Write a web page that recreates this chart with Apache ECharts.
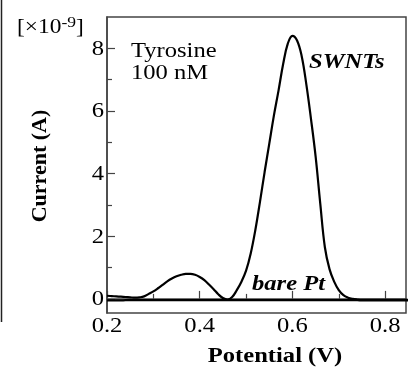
<!DOCTYPE html>
<html>
<head>
<meta charset="utf-8">
<script src="https://cdn.jsdelivr.net/npm/echarts@6/dist/echarts.min.js"></script>
<style>
  html, body { margin: 0; padding: 0; background: #fff; }
  #chart { width: 410px; height: 373px; }
</style>
</head>
<body>
<div id="chart"></div>
<script>
// potential (V)
var potential = [0.20, 0.21, 0.22, 0.23, 0.24, 0.25, 0.26, 0.27, 0.28, 0.29,
  0.30, 0.31, 0.32, 0.33, 0.34, 0.35, 0.36, 0.37, 0.38, 0.39,
  0.40, 0.41, 0.42, 0.43, 0.44, 0.45, 0.46, 0.47, 0.48, 0.49,
  0.50, 0.51, 0.52, 0.53, 0.54, 0.55, 0.56, 0.57, 0.58, 0.59,
  0.60, 0.61, 0.62, 0.63, 0.64, 0.65, 0.66, 0.67, 0.68, 0.69,
  0.70, 0.71, 0.72, 0.73, 0.74, 0.75, 0.76, 0.77, 0.78, 0.79,
  0.80, 0.81, 0.82, 0.83, 0.84, 0.85];
// current (x1e-9 A), SWNTs electrode
var swnts = [0.10, 0.09, 0.08, 0.07, 0.06, 0.05, 0.04, 0.05, 0.08, 0.16,
  0.24, 0.34, 0.45, 0.56, 0.65, 0.72, 0.77, 0.80, 0.80, 0.77,
  0.70, 0.60, 0.46, 0.31, 0.15, 0.03, -0.02, 0.06, 0.28, 0.55,
  0.90, 1.45, 2.20, 3.10, 4.05, 4.95, 5.85, 6.65, 7.50, 8.15,
  8.40, 8.25, 7.75, 6.85, 5.75, 4.55, 3.05, 1.65, 0.95, 0.55,
  0.28, 0.12, 0.04, 0.00, -0.02, -0.03, -0.03, -0.03, -0.03, -0.03,
  -0.03, -0.03, -0.03, -0.03, -0.03, -0.03];
// bare Pt electrode
var barePt = [-0.05, -0.05, -0.05, -0.05, -0.04, -0.04, -0.04, -0.04, -0.04, -0.04,
  -0.04, -0.04, -0.04, -0.04, -0.04, -0.04, -0.04, -0.04, -0.04, -0.04,
  -0.04, -0.04, -0.04, -0.04, -0.04, -0.04, -0.04, -0.04, -0.04, -0.04,
  -0.04, -0.04, -0.04, -0.04, -0.04, -0.04, -0.04, -0.04, -0.04, -0.04,
  -0.04, -0.04, -0.04, -0.04, -0.04, -0.04, -0.04, -0.04, -0.04, -0.04,
  -0.04, -0.04, -0.04, -0.04, -0.04, -0.05, -0.05, -0.05, -0.05, -0.05,
  -0.05, -0.05, -0.05, -0.05, -0.05, -0.05];

var xMajor = [0.2, 0.4, 0.6, 0.8];
var xMinor = [0.3, 0.5, 0.7];
var yMajor = [0, 2, 4, 6, 8];
var yMinor = [1, 3, 5, 7];

function pairs(xs, ys) {
  var out = [];
  for (var i = 0; i < xs.length; i++) out.push([xs[i], ys[i]]);
  return out;
}

var serif = "Liberation Serif";
var axisColor = "#444";
var stretch = 1.17; // the reference type is a bit wider than normal

var myChart = echarts.init(document.getElementById("chart"));
myChart.setOption({
  animation: false,
  grid: {
    left: 107, top: 17, right: 4, bottom: 60,
    show: true,
    borderColor: axisColor,
    borderWidth: 1.5
  },
  xAxis: [
    {
      type: "value", min: 0.2, max: 0.845,
      axisLine: { show: true, lineStyle: { color: axisColor, width: 1.5 } },
      axisTick: { show: true, inside: true, length: 8, customValues: xMajor, lineStyle: { color: axisColor, width: 1.2 } },
      axisLabel: { show: false },
      splitLine: { show: false }
    },
    {
      type: "value", min: 0.2, max: 0.845, position: "bottom",
      axisLine: { show: false },
      axisTick: { show: true, inside: true, length: 5, customValues: xMinor, lineStyle: { color: axisColor, width: 1.2 } },
      axisLabel: { show: false },
      splitLine: { show: false }
    }
  ],
  yAxis: [
    {
      type: "value", min: -0.45, max: 9,
      axisLine: { show: true, lineStyle: { color: axisColor, width: 1.5 } },
      axisTick: { show: true, inside: true, length: 8, customValues: yMajor, lineStyle: { color: axisColor, width: 1.2 } },
      axisLabel: { show: false },
      splitLine: { show: false }
    },
    {
      type: "value", min: -0.45, max: 9, position: "left",
      axisLine: { show: false },
      axisTick: { show: true, inside: true, length: 5, customValues: yMinor, lineStyle: { color: axisColor, width: 1.2 } },
      axisLabel: { show: false },
      splitLine: { show: false }
    }
  ],
  series: [
    {
      name: "SWNTs", type: "line", data: pairs(potential, swnts),
      smooth: 0.4, showSymbol: false,
      lineStyle: { color: "#000", width: 2.2 }
    },
    {
      name: "bare Pt", type: "line", data: pairs(potential, barePt),
      smooth: 0.4, showSymbol: false,
      lineStyle: { color: "#000", width: 2.2 }
    }
  ]
});

// tick labels and texts, placed with the axes' own scales
var gfx = [];
function txt(x, y, s, font, align, vAlign, rot) {
  gfx.push({
    type: "text", x: x, y: y, rotation: rot || 0,
    scaleX: rot ? 1 : stretch,
    style: { text: s, font: font, fill: "#000", align: align, verticalAlign: vAlign }
  });
}
var x0 = myChart.convertToPixel({ xAxisIndex: 0 }, 0.2);
var yBase = myChart.convertToPixel({ yAxisIndex: 0 }, -0.45);
xMajor.forEach(function (v) {
  txt(myChart.convertToPixel({ xAxisIndex: 0 }, v), yBase + 13, v.toFixed(1), "21px " + serif, "center", "middle");
});
yMajor.forEach(function (v) {
  txt(x0 - 3, myChart.convertToPixel({ yAxisIndex: 0 }, v) + 1, String(v), "21px " + serif, "right", "middle");
});
txt(131, 51, "Tyrosine", "21px " + serif, "left", "middle");
txt(131, 73, "100 nM", "21px " + serif, "left", "middle");
txt(309, 63, "SWNTs", "italic bold 21px " + serif, "left", "middle");
txt(252, 285, "bare Pt", "italic bold 21px " + serif, "left", "middle");
txt(275, 357, "Potential (V)", "bold 21px " + serif, "center", "middle");
txt(40, 166, "Current (A)", "bold 22px " + serif, "center", "middle", Math.PI / 2);

gfx.push({ type: "line", shape: { x1: 1.5, y1: 0, x2: 1.5, y2: 322 }, style: { stroke: "#222", lineWidth: 1.5 } });
gfx.push({
  type: "text", x: 17, y: 40, scaleX: stretch,
  style: {
    text: "[×10{s|-9}]",
    font: "20px " + serif, fill: "#000", verticalAlign: "bottom",
    rich: { s: { fontSize: 15, fontFamily: serif, padding: [0, 0, 9, 0] } }
  }
});

myChart.setOption({ graphic: gfx });
</script>
</body>
</html>
